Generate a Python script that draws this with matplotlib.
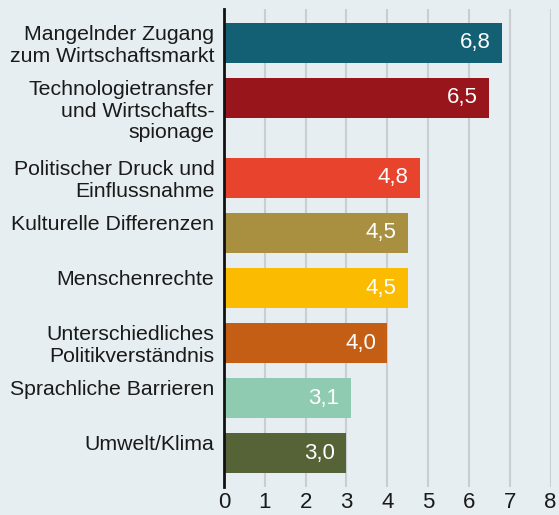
import matplotlib
matplotlib.use("Agg")
import matplotlib.pyplot as plt
from matplotlib import font_manager

categories = [
    "Mangelnder Zugang\nzum Wirtschaftsmarkt",
    "Technologietransfer\nund Wirtschafts-\nspionage",
    "Politischer Druck und\nEinflussnahme",
    "Kulturelle Differenzen",
    "Menschenrechte",
    "Unterschiedliches\nPolitikverständnis",
    "Sprachliche Barrieren",
    "Umwelt/Klima",
]
values = [6.8, 6.5, 4.8, 4.5, 4.5, 4.0, 3.1, 3.0]
value_labels = ["6,8", "6,5", "4,8", "4,5", "4,5", "4,0", "3,1", "3,0"]
colors = ["#135f74", "#98151b", "#e8432c", "#a89040", "#fbbb00", "#c55e15", "#8ecbb0", "#556337"]
xticks = [0, 1, 2, 3, 4, 5, 6, 7, 8]

names = {f.name for f in font_manager.fontManager.ttflist}
fam = ["Liberation Sans Narrow", "DejaVu Sans"] if "Liberation Sans Narrow" in names else ["Liberation Sans", "DejaVu Sans"]
plt.rcParams["font.family"] = fam

bg = "#e6eef1"
fig = plt.figure(figsize=(5.59, 5.15), dpi=100, facecolor=bg)
ax = fig.add_axes([224 / 559, 28 / 515, (550.5 - 224) / 559, 478 / 515])
ax.set_facecolor(bg)

# layout: extra gap after the 3-line label
pos = []
y = 0.0
for i in range(len(categories)):
    pos.append(y)
    y += 1.0 + (25 / 55 if i == 1 else 0)
bh = 40 / 55

ax.barh(pos, values, height=bh, color=colors, zorder=3)
ax.set_xlim(0, 8)
ax.set_ylim(pos[-1] + 0.618, -0.618)
ax.set_xticks(xticks)
ax.set_xticklabels([str(t) for t in xticks], fontsize=16, color="#1a1a1a")
ax.tick_params(axis="x", length=0, pad=3.5)
ax.set_yticks([])
for s in ["top", "right", "bottom"]:
    ax.spines[s].set_visible(False)
ax.spines["left"].set_color("#111111")
ax.spines["left"].set_linewidth(2)
ax.spines["left"].set_zorder(5)
for t in xticks[1:]:
    ax.axvline(t, color="#c8ced1", lw=1.5, zorder=1)

for p, v, lab, cat in zip(pos, values, value_labels, categories):
    ax.annotate(lab, xy=(v, p), xytext=(-8, 0), textcoords="offset points",
                ha="right", va="center", color="white", fontsize=16, zorder=4)
    ax.annotate(cat, xy=(0, p - bh / 2), xytext=(-7, -1.5), textcoords="offset points",
                ha="right", va="top", color="#1a1a1a", fontsize=15.3,
                linespacing=1.17, multialignment="right", annotation_clip=False)

fig.savefig("out.png", dpi=100, facecolor=bg)
